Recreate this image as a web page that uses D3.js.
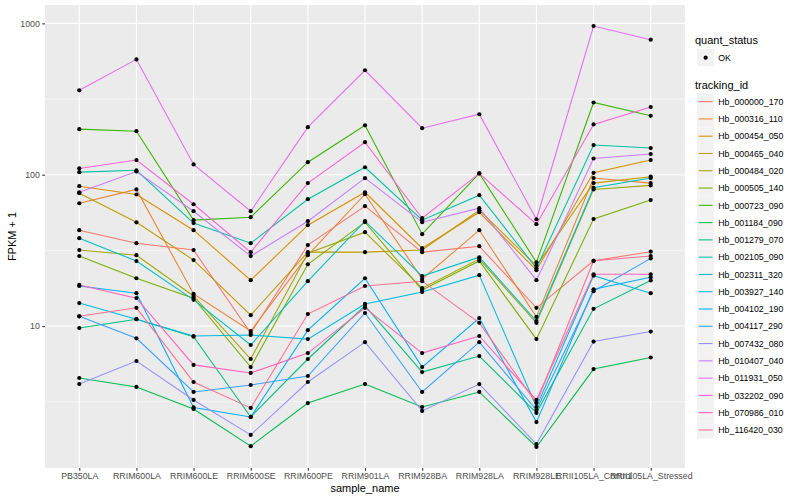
<!DOCTYPE html>
<html>
<head>
<meta charset="utf-8">
<script src="https://cdn.jsdelivr.net/npm/d3@7"></script>
<style>
    body {margin: 0; background: #fff;}
    svg text {font-family: "Liberation Sans", Arial, Helvetica, sans-serif;}
</style>
</head>
<body>
<svg id="chart" width="800" height="500"></svg>
<script>
const samples = ["PB350LA", "RRIM600LA", "RRIM600LE", "RRIM600SE", "RRIM600PE", "RRIM901LA",
    "RRIM928BA", "RRIM928LA", "RRIM928LE", "RRII105LA_Control", "RRII105LA_Stressed"]

const trackingIds = ["Hb_000000_170", "Hb_000316_110", "Hb_000454_050", "Hb_000465_040", "Hb_000484_020",
    "Hb_000505_140", "Hb_000723_090", "Hb_001184_090", "Hb_001279_070", "Hb_002105_090", "Hb_002311_320",
    "Hb_003927_140", "Hb_004102_190", "Hb_004117_290", "Hb_007432_080", "Hb_010407_040", "Hb_011931_050",
    "Hb_032202_090", "Hb_070986_010", "Hb_116420_030"]

const hueColors = ["#F8766D", "#EA8331", "#D89000", "#C09B00", "#A3A500", "#7CAE00", "#39B600", "#00BB4E",
    "#00BF7D", "#00C1A3", "#00BFC4", "#00BAE0", "#00B0F6", "#35A2FF", "#9590FF", "#C77CFF", "#E76BF3",
    "#FA62DB", "#FF62BC", "#FF6C91"]

// FPKM + 1, one array per gene, in sample order
const hb_000000_170 = [43, 35.3, 31.8, 9.0, 34.3, 62, 30.8, 33.7, 13.2, 27, 31]
const hb_000316_110 = [64.8, 80, 16.3, 9.27, 29.4, 74.3, 20.5, 43, 11.5, 95, 88]
const hb_000454_050 = [84, 74, 43, 20.1, 46.4, 76.6, 32.7, 56.5, 23.4, 103, 125]
const hb_000465_040 = [75.5, 48.5, 27.3, 11.8, 30.8, 30.8, 31.8, 58.3, 25, 88, 97]
const hb_000484_020 = [31.8, 29.4, 15.8, 6.06, 30.3, 41.7, 17.8, 27.7, 10.5, 80, 85]
const hb_000505_140 = [29, 20.7, 15.3, 5.36, 25.6, 48.6, 17.3, 26.9, 8.2, 51, 68]
const hb_000723_090 = [200, 194, 50.1, 52.4, 121, 212, 40.5, 102, 26.4, 300, 245]
const hb_001184_090 = [4.54, 3.96, 2.83, 1.61, 3.1, 4.14, 2.92, 3.67, 1.59, 5.2, 6.2]
const hb_001279_070 = [9.7, 11.1, 8.5, 2.51, 6.06, 13.6, 4.97, 6.34, 2.67, 13, 20]
const hb_002105_090 = [104, 107, 47.9, 35.3, 68.9, 112, 50.1, 73.3, 24.1, 157, 150]
const hb_002311_320 = [38.1, 26.9, 14.9, 7.5, 19.8, 49.3, 21.4, 28.5, 10.8, 82, 95]
const hb_003927_140 = [14.2, 11.1, 8.6, 8.73, 8.2, 14, 16.8, 21.7, 2.92, 21.5, 16.5]
const hb_004102_190 = [18.4, 16.5, 2.9, 2.51, 9.4, 20.7, 5.36, 11.3, 2.32, 17.5, 21]
const hb_004117_290 = [11.6, 8.3, 3.67, 4.08, 4.68, 12.2, 3.67, 7.83, 2.79, 17, 28]
const hb_007432_080 = [4.14, 5.88, 3.25, 1.91, 4.27, 7.83, 2.75, 4.14, 1.66, 7.9, 9.2]
const hb_010407_040 = [76.6, 105, 57.4, 29, 49.3, 94.9, 48.6, 60.1, 20.1, 128, 137]
const hb_011931_050 = [361, 578, 117, 57.4, 206, 490, 203, 251, 50.8, 960, 780]
const hb_032202_090 = [110, 125, 63.8, 30.8, 88, 164, 51.6, 102, 47.1, 215, 280]
const hb_070986_010 = [18.7, 15.3, 5.54, 4.9, 6.63, 13.2, 6.63, 8.6, 3.25, 22, 22]
const hb_116420_030 = [11.6, 13.2, 4.27, 2.88, 12, 18.4, 19.8, 10.5, 3.1, 27, 29]

const seriesValues = [hb_000000_170, hb_000316_110, hb_000454_050, hb_000465_040, hb_000484_020,
    hb_000505_140, hb_000723_090, hb_001184_090, hb_001279_070, hb_002105_090, hb_002311_320,
    hb_003927_140, hb_004102_190, hb_004117_290, hb_007432_080, hb_010407_040, hb_011931_050,
    hb_032202_090, hb_070986_010, hb_116420_030]

const yTicks = [10, 100, 1000]

const series = trackingIds.map((id, i) => ({
    id: id,
    color: hueColors[i],
    points: samples.map((s, j) => ({sample: s, value: seriesValues[i][j]}))
}))

const panel = {left: 45, right: 685, top: 5, bottom: 468}
const svg = d3.select("#chart")

const x = d3.scalePoint()
    .domain(samples)
    .range([panel.left, panel.right])
    .padding(0.6)

// ggplot style 5% expansion in log space
const allValues = seriesValues.flat()
const logMin = Math.log10(d3.min(allValues)), logMax = Math.log10(d3.max(allValues))
const pad = (logMax - logMin) * 0.05
const y = d3.scaleLog()
    .domain([Math.pow(10, logMin - pad), Math.pow(10, logMax + pad)])
    .range([panel.bottom, panel.top])

// panel background and grid
svg.append("rect")
    .attr("x", panel.left).attr("y", panel.top)
    .attr("width", panel.right - panel.left).attr("height", panel.bottom - panel.top)
    .attr("fill", "#EBEBEB")

const minorTicks = yTicks.map(t => t / Math.sqrt(10)).filter(t => y(t) >= panel.top && y(t) <= panel.bottom)
svg.append("g").selectAll("line")
    .data(minorTicks)
    .enter().append("line")
    .attr("x1", panel.left).attr("x2", panel.right)
    .attr("y1", d => y(d)).attr("y2", d => y(d))
    .attr("stroke", "#fff").attr("stroke-width", 0.53)

svg.append("g").selectAll("line")
    .data(yTicks)
    .enter().append("line")
    .attr("x1", panel.left).attr("x2", panel.right)
    .attr("y1", d => y(d)).attr("y2", d => y(d))
    .attr("stroke", "#fff").attr("stroke-width", 1.07)

svg.append("g").selectAll("line")
    .data(samples)
    .enter().append("line")
    .attr("x1", d => x(d)).attr("x2", d => x(d))
    .attr("y1", panel.top).attr("y2", panel.bottom)
    .attr("stroke", "#fff").attr("stroke-width", 1.07)

// lines
const line = d3.line()
    .x(d => x(d.sample))
    .y(d => y(d.value))

svg.append("g").selectAll("path")
    .data(series)
    .enter().append("path")
    .attr("d", d => line(d.points))
    .attr("fill", "none")
    .attr("stroke", d => d.color)
    .attr("stroke-width", 1.07)

// points
svg.append("g").selectAll("circle")
    .data(series.flatMap(s => s.points))
    .enter().append("circle")
    .attr("cx", d => x(d.sample))
    .attr("cy", d => y(d.value))
    .attr("r", 2.1)
    .attr("fill", "#000")

// axes
const xAxis = svg.append("g")
    .attr("transform", "translate(0," + panel.bottom + ")")
    .call(d3.axisBottom(x).tickSize(2.7).tickPadding(2.5))
xAxis.select(".domain").remove()
xAxis.selectAll("line").attr("stroke", "#333").attr("stroke-width", 1.07)
xAxis.selectAll("text").attr("fill", "#4D4D4D").style("font-size", "8.8px")

const yAxis = svg.append("g")
    .attr("transform", "translate(" + panel.left + ",0)")
    .call(d3.axisLeft(y).tickValues(yTicks).tickFormat(d3.format("d")).tickSize(2.7).tickPadding(2.5))
yAxis.select(".domain").remove()
yAxis.selectAll("line").attr("stroke", "#333").attr("stroke-width", 1.07)
yAxis.selectAll("text").attr("fill", "#4D4D4D").style("font-size", "8.8px")

svg.append("text")
    .attr("x", (panel.left + panel.right) / 2)
    .attr("y", 492)
    .attr("text-anchor", "middle")
    .style("font-size", "11px")
    .text("sample_name")

svg.append("text")
    .attr("transform", "translate(16," + ((panel.top + panel.bottom) / 2) + ") rotate(-90)")
    .attr("text-anchor", "middle")
    .style("font-size", "11px")
    .text("FPKM + 1")

// legends
const legendX = 697, keySize = 17.28

const qs = svg.append("g")
qs.append("text")
    .attr("x", legendX - 2).attr("y", 44)
    .style("font-size", "11px")
    .text("quant_status")
qs.append("rect")
    .attr("x", legendX).attr("y", 49)
    .attr("width", keySize).attr("height", keySize)
    .attr("fill", "#F2F2F2")
qs.append("circle")
    .attr("cx", legendX + keySize / 2).attr("cy", 49 + keySize / 2)
    .attr("r", 2.1).attr("fill", "#000")
qs.append("text")
    .attr("x", legendX + keySize + 4).attr("y", 49 + keySize / 2 + 3.2)
    .style("font-size", "8.8px")
    .text("OK")

const tl = svg.append("g")
tl.append("text")
    .attr("x", legendX - 2).attr("y", 89)
    .style("font-size", "11px")
    .text("tracking_id")

const keys = tl.selectAll("g.key")
    .data(series)
    .enter().append("g")
    .attr("class", "key")
    .attr("transform", (d, i) => "translate(" + legendX + "," + (93 + i * keySize) + ")")

keys.append("rect")
    .attr("width", keySize).attr("height", keySize)
    .attr("fill", "#F2F2F2")
keys.append("line")
    .attr("x1", 1.7).attr("x2", keySize - 1.7)
    .attr("y1", keySize / 2).attr("y2", keySize / 2)
    .attr("stroke", d => d.color).attr("stroke-width", 1.07)
keys.append("text")
    .attr("x", keySize + 4).attr("y", keySize / 2 + 3.2)
    .style("font-size", "8.8px")
    .text(d => d.id)
</script>
</body>
</html>
